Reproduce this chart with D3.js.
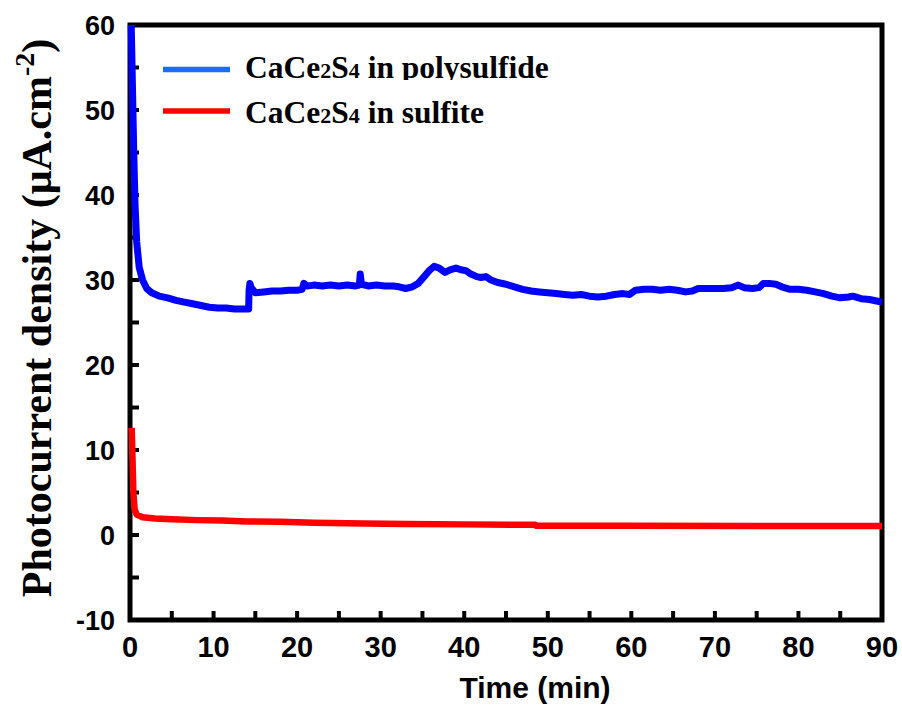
<!DOCTYPE html>
<html>
<head>
<meta charset="utf-8">
<script src="https://cdn.jsdelivr.net/npm/d3@7/dist/d3.min.js"></script>
<style>
  html, body { margin: 0; padding: 0; background: #fff; }
  svg { display: block; }
</style>
</head>
<body>
<svg id="chart" width="902" height="706"></svg>
<script>
// Photocurrent density vs time, CaCe2S4 photoanode in two electrolytes
const polysulfideTime = [0.15,0.25,0.35,0.45,0.6,0.8,1.1,1.5,2.0,2.6,3.5,4.5,5.5,6.5,7.5,8.5,9.5,10.5,11.5,12.5,13.5,14.2,14.25,14.35,14.5,15.0,16.0,17.0,18.0,19.0,20.0,20.6,20.8,21.2,22.0,23.0,24.0,25.0,26.0,27.0,27.45,27.55,27.7,28.5,29.5,30.5,31.5,32.2,33.0,33.8,34.5,35.2,35.8,36.4,37.0,37.7,38.3,39.0,39.6,40.2,40.8,41.5,42.0,42.6,43.2,44.0,45.0,46.0,47.0,48.0,49.0,50.0,51.0,52.0,53.0,54.0,55.0,56.0,57.0,58.0,59.0,59.8,60.5,61.5,62.5,63.5,64.5,65.5,66.5,67.3,68.0,69.0,70.0,71.0,72.0,72.8,73.5,74.5,75.3,75.8,76.5,77.3,78.0,79.0,80.0,81.0,82.0,83.0,84.0,85.0,86.0,86.5,87.5,88.5,89.5,90.0];
const polysulfideCurrent = [60,55,50,45,39,34.5,31.5,30.0,29.0,28.5,28.1,27.9,27.6,27.4,27.2,27.0,26.8,26.7,26.7,26.6,26.6,26.6,28.8,29.6,29.1,28.5,28.6,28.7,28.7,28.8,28.8,28.9,29.6,29.3,29.4,29.3,29.4,29.3,29.4,29.3,29.4,30.7,29.5,29.3,29.4,29.3,29.3,29.2,29.0,29.2,29.6,30.4,31.1,31.6,31.4,30.9,31.2,31.4,31.2,31.1,30.7,30.4,30.3,30.4,30.0,29.7,29.5,29.2,28.9,28.7,28.6,28.5,28.4,28.3,28.2,28.3,28.1,28.0,28.1,28.3,28.4,28.3,28.8,28.9,28.9,28.8,28.9,28.8,28.6,28.7,29.0,29.0,29.0,29.0,29.1,29.4,29.1,29.0,29.1,29.6,29.6,29.5,29.2,28.9,28.9,28.8,28.6,28.4,28.1,27.9,28.0,28.1,27.8,27.7,27.5,27.4];

const sulfiteTime = [0.2,0.3,0.4,0.55,0.8,1.5,3,5,8,11,14,18,22,28,33,40,48.5,48.6,60,75,90];
const sulfiteCurrent = [12.6,9,5,3.0,2.4,2.1,1.95,1.85,1.75,1.7,1.6,1.55,1.45,1.35,1.3,1.25,1.2,1.1,1.08,1.05,1.05];

const xTicks = [0,10,20,30,40,50,60,70,80,90];
const yTicks = [-10,0,10,20,30,40,50,60];
const xMinor = d3.range(5, 90, 5);
const yMinor = d3.range(-5, 60, 5);

const seriesNames = ["in polysulfide", "in sulfite"];
const seriesColors = ["#0000ff", "#ff0000"];
const legendColors = ["#1a6eff", "#ff0000"];

const svg = d3.select("#chart");
const plotLeft = 130, plotRight = 882, plotTop = 25, plotBottom = 620;

const x = d3.scaleLinear().domain([0, 90]).range([plotLeft, plotRight]);
const y = d3.scaleLinear().domain([-10, 60]).range([plotBottom, plotTop]);

// frame
svg.append("rect")
  .attr("x", plotLeft).attr("y", plotTop)
  .attr("width", plotRight - plotLeft).attr("height", plotBottom - plotTop)
  .attr("fill", "none").attr("stroke", "#000").attr("stroke-width", 5);

// inward ticks on the left and bottom axes
svg.append("g").selectAll("line").data(yMinor).join("line")
  .attr("x1", plotLeft).attr("x2", plotLeft + 9)
  .attr("y1", d => y(d)).attr("y2", d => y(d))
  .attr("stroke", "#000").attr("stroke-width", 4);
svg.append("g").selectAll("line").data(xMinor).join("line")
  .attr("x1", d => x(d)).attr("x2", d => x(d))
  .attr("y1", plotBottom).attr("y2", plotBottom - 9)
  .attr("stroke", "#000").attr("stroke-width", 4);

// tick labels
svg.append("g").selectAll("text").data(yTicks).join("text")
  .attr("x", 115).attr("y", d => y(d)).attr("dy", "0.36em")
  .attr("text-anchor", "end")
  .attr("font-family", "Liberation Sans, Arial, sans-serif")
  .attr("font-weight", "bold").attr("font-size", 27)
  .text(d => d);
svg.append("g").selectAll("text").data(xTicks).join("text")
  .attr("x", d => x(d)).attr("y", 657)
  .attr("text-anchor", "middle")
  .attr("font-family", "Liberation Sans, Arial, sans-serif")
  .attr("font-weight", "bold").attr("font-size", 29)
  .text(d => d);

// axis titles
svg.append("text")
  .attr("x", 535).attr("y", 698)
  .attr("text-anchor", "middle")
  .attr("font-family", "Liberation Sans, Arial, sans-serif")
  .attr("font-weight", "bold").attr("font-size", 30)
  .text("Time (min)");

const yTitle = svg.append("text")
  .attr("transform", "translate(51,318) rotate(-90)")
  .attr("text-anchor", "middle")
  .attr("font-family", "Liberation Serif, Times New Roman, serif")
  .attr("font-weight", "bold").attr("font-size", 42);
yTitle.append("tspan").text("Photocurrent density (μA.cm");
yTitle.append("tspan").attr("font-size", 28).attr("dy", -17).text("-2");
yTitle.append("tspan").attr("dy", 17).text(")");

// data lines
const line = d3.line().x(d => x(d[0])).y(d => y(d[1]));
const polysulfide = d3.zip(polysulfideTime, polysulfideCurrent);
const sulfite = d3.zip(sulfiteTime, sulfiteCurrent);

svg.append("path").datum(sulfite)
  .attr("d", line).attr("fill", "none")
  .attr("stroke", seriesColors[1]).attr("stroke-width", 6.5)
  .attr("stroke-linejoin", "round");
svg.append("path").datum(polysulfide)
  .attr("d", line).attr("fill", "none")
  .attr("stroke", seriesColors[0]).attr("stroke-width", 7)
  .attr("stroke-linejoin", "round");

// legend
const defs = svg.append("defs");
defs.append("clipPath").attr("id", "legendClip")
  .append("rect").attr("x", 0).attr("y", 0).attr("width", 902).attr("height", 80);

const legendY = [69.5, 111];
const legendBase = [78, 123];
seriesNames.forEach((name, i) => {
  svg.append("line")
    .attr("x1", 163).attr("x2", 230)
    .attr("y1", legendY[i]).attr("y2", legendY[i])
    .attr("stroke", legendColors[i]).attr("stroke-width", 5.5);
  const t = svg.append("text")
    .attr("x", 245).attr("y", legendBase[i])
    .attr("font-family", "Liberation Serif, Times New Roman, serif")
    .attr("font-weight", "bold").attr("font-size", 31.5);
  if (i === 0) t.attr("clip-path", "url(#legendClip)");
  t.append("tspan").text("CaCe");
  t.append("tspan").attr("font-size", 22).text("2");
  t.append("tspan").text("S");
  t.append("tspan").attr("font-size", 22).text("4");
  t.append("tspan").text(" " + name);
});
</script>
</body>
</html>
